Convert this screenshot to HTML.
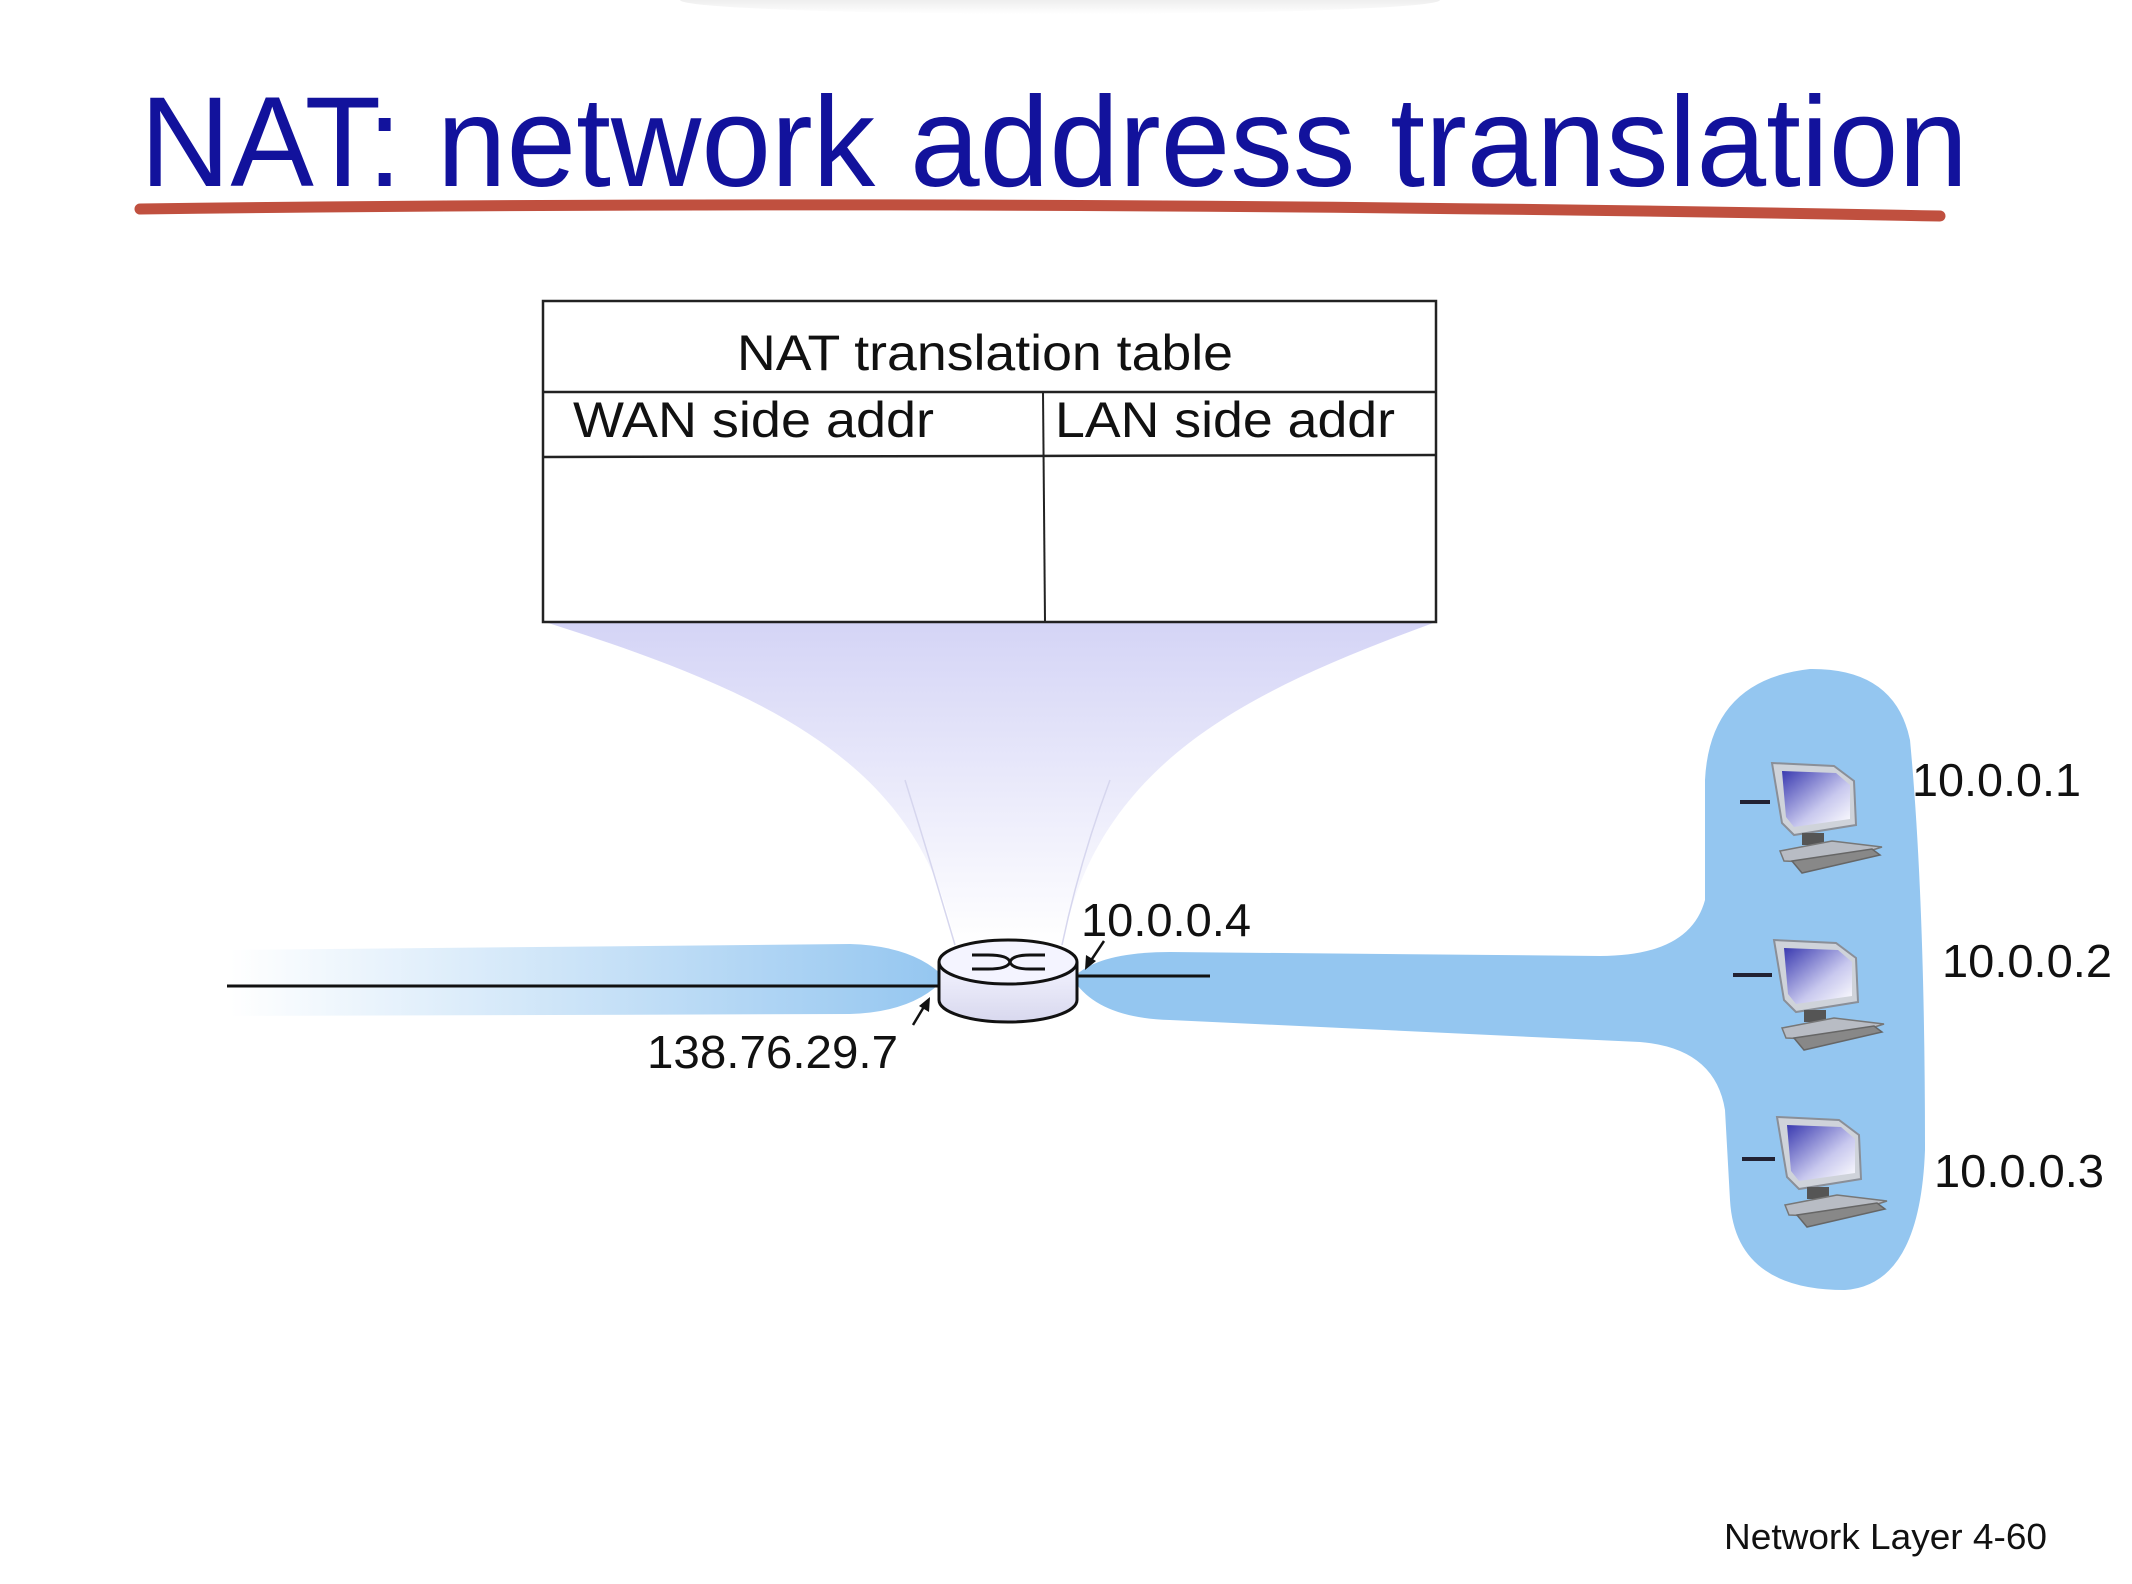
<!DOCTYPE html>
<html><head><meta charset="utf-8"><style>
html,body{margin:0;padding:0;background:#fff;}
svg{display:block;}
text{font-family:"Liberation Sans",Arial,sans-serif;fill:#111;}
</style></head><body>
<svg width="2132" height="1584" viewBox="0 0 2132 1584" xmlns="http://www.w3.org/2000/svg">
<defs>
<linearGradient id="topsh" x1="0" y1="0" x2="0" y2="1"><stop offset="0" stop-color="#ddd"/><stop offset="1" stop-color="#fff"/></linearGradient>
<linearGradient id="fan" x1="0" y1="0" x2="0" y2="1"><stop offset="0" stop-color="#d4d4f6"/><stop offset="1" stop-color="#ffffff"/></linearGradient>
<linearGradient id="wan" x1="0" y1="0" x2="1" y2="0"><stop offset="0" stop-color="#94c6f0" stop-opacity="0"/><stop offset="0.5" stop-color="#94c6f0" stop-opacity="0.5"/><stop offset="1" stop-color="#94c6f0"/></linearGradient>
<linearGradient id="rt" x1="0" y1="0" x2="0" y2="1"><stop offset="0" stop-color="#f4f4ff"/><stop offset="1" stop-color="#d8d8ee"/></linearGradient>
<linearGradient id="scr" x1="0" y1="0" x2="1" y2="1"><stop offset="0" stop-color="#3a3ab0"/><stop offset="0.6" stop-color="#c8c8ee"/><stop offset="1" stop-color="#ffffff"/></linearGradient>
<g id="pc">
 <polygon points="0,0 62,3 82,18 84,62 22,72 10,60" fill="#cfd3da" stroke="#8a8f98" stroke-width="2"/>
 <polygon points="10,8 64,10 78,22 78,56 22,64 14,54" fill="url(#scr)"/>
 <rect x="30" y="70" width="22" height="12" fill="#555"/>
 <polygon points="8,88 60,78 110,84 60,100 12,98" fill="#b8bcc4" stroke="#777" stroke-width="1.5"/>
 <polygon points="20,98 100,86 108,92 30,110" fill="#888" stroke="#666" stroke-width="1.5"/>
</g>
</defs>
<rect x="0" y="0" width="2132" height="1584" fill="#fff"/>
<ellipse cx="1060" cy="0" rx="380" ry="14" fill="url(#topsh)"/>

<text x="140" y="186" font-size="128" textLength="1828" lengthAdjust="spacingAndGlyphs" style="fill:#12129c">NAT: network address translation</text>
<path d="M140 209 Q1000 198 1940 216" stroke="#c0503f" stroke-width="11" fill="none" stroke-linecap="round"/>

<path d="M545 622 L1436 622 C1250 690 1100 760 1062 945 L955 945 C920 760 760 690 545 622 Z" fill="url(#fan)"/>
<path d="M905 780 Q930 860 955 945 M1110 780 Q1080 860 1062 945" stroke="#d6d6ee" stroke-width="1.5" fill="none"/>

<rect x="543" y="301" width="893" height="321" fill="#fff" stroke="#222" stroke-width="2.5"/>
<line x1="543" y1="392" x2="1436" y2="392" stroke="#222" stroke-width="2.5"/>
<line x1="543" y1="457" x2="1436" y2="455" stroke="#222" stroke-width="2.5"/>
<line x1="1043" y1="392" x2="1045" y2="622" stroke="#222" stroke-width="2"/>
<text x="737" y="370" font-size="50" textLength="496" lengthAdjust="spacingAndGlyphs">NAT translation table</text>
<text x="573" y="437" font-size="50" textLength="361" lengthAdjust="spacingAndGlyphs">WAN side addr</text>
<text x="1055" y="437" font-size="50" textLength="340" lengthAdjust="spacingAndGlyphs">LAN side addr</text>

<path d="M230 950 L850 944 Q915 946 945 978 Q915 1012 850 1014 L230 1016 Z" fill="url(#wan)"/>
<line x1="227" y1="986" x2="945" y2="986" stroke="#111" stroke-width="3"/>

<path d="M1075 976 Q1100 952 1170 952 L1600 956 Q1690 956 1705 900 L1705 780 Q1710 680 1810 669 Q1895 668 1910 740 Q1925 900 1925 1150 Q1920 1285 1845 1290 Q1735 1290 1730 1200 L1725 1110 Q1715 1048 1640 1042 L1170 1020 Q1100 1018 1075 982 Z" fill="#94c6f0"/>
<line x1="1078" y1="976" x2="1210" y2="976" stroke="#111" stroke-width="3"/>

<path d="M939 962 L939 1000 A69 22 0 0 0 1077 1000 L1077 962" fill="url(#rt)" stroke="#111" stroke-width="3"/>
<ellipse cx="1008" cy="962" rx="69" ry="22" fill="#f4f4ff" stroke="#111" stroke-width="3"/>
<path d="M972 955 L988 955 Q1008 955 1010 962 Q1012 969 1030 969 L1045 969 M972 969 L988 969 Q1008 969 1010 962 Q1012 955 1030 955 L1045 955" stroke="#111" stroke-width="3" fill="none"/>

<line x1="1104" y1="941" x2="1090" y2="962" stroke="#111" stroke-width="2.5"/>
<polygon points="1085,970 1086,955 1096,961" fill="#111"/>
<line x1="913" y1="1025" x2="925" y2="1005" stroke="#111" stroke-width="2.5"/>
<polygon points="930,997 929,1012 919,1006" fill="#111"/>

<text x="1081" y="936" font-size="46" textLength="170" lengthAdjust="spacingAndGlyphs">10.0.0.4</text>
<text x="647" y="1068" font-size="46" textLength="251" lengthAdjust="spacingAndGlyphs">138.76.29.7</text>

<line x1="1740" y1="802" x2="1770" y2="802" stroke="#223" stroke-width="4"/>
<use href="#pc" x="1772" y="763"/>
<line x1="1733" y1="975" x2="1772" y2="975" stroke="#223" stroke-width="4"/>
<use href="#pc" x="1774" y="940"/>
<line x1="1742" y1="1159" x2="1775" y2="1159" stroke="#223" stroke-width="4"/>
<use href="#pc" x="1777" y="1117"/>

<text x="1912" y="796" font-size="46" textLength="169" lengthAdjust="spacingAndGlyphs">10.0.0.1</text>
<text x="1942" y="977" font-size="46" textLength="170" lengthAdjust="spacingAndGlyphs">10.0.0.2</text>
<text x="1934" y="1187" font-size="46" textLength="170" lengthAdjust="spacingAndGlyphs">10.0.0.3</text>

<text x="1724" y="1549" font-size="36" textLength="323" lengthAdjust="spacingAndGlyphs">Network Layer  4-60</text>
</svg>
</body></html>
